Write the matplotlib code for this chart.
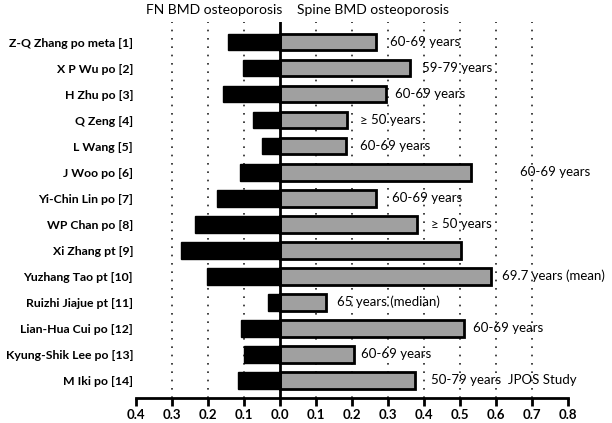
import numpy as np
import matplotlib.pyplot as plt

studies = ["Z-Q Zhang po meta [1]", "X P Wu po [2]", "H Zhu po [3]", "Q Zeng [4]",
           "L Wang [5]", "J Woo po [6]", "Yi-Chin Lin po [7]", "WP Chan po [8]",
           "Xi Zhang pt [9]", "Yuzhang Tao pt [10]", "Ruizhi Jiajue pt [11]",
           "Lian-Hua Cui po [12]", "Kyung-Shik Lee po [13]", "M Iki po [14]"]
fn_bmd = [0.145, 0.103, 0.159, 0.075, 0.050, 0.111, 0.175, 0.237,
          0.276, 0.203, 0.034, 0.109, 0.100, 0.117]
spine_bmd = [0.267, 0.362, 0.295, 0.187, 0.185, 0.532, 0.267, 0.382,
             0.504, 0.587, 0.127, 0.510, 0.206, 0.376]
age_notes = ["60-69 years", "59-79 years", "60-69 years", "\u2265 50 years",
             "60-69 years", "60-69 years", "60-69 years", "\u2265 50 years",
             "", "69.7 years (mean)", "65 years (median)", "60-69 years",
             "60-69 years", "50-79 years  JPOS Study"]
note_x = [0.306, 0.396, 0.32, 0.223, 0.223, 0.666, 0.312, 0.42,
          0, 0.618, 0.159, 0.535, 0.226, 0.42]
ticks = np.round(np.arange(-0.4, 0.81, 0.1), 1)

plt.rcParams['font.family'] = ['Lato', 'DejaVu Sans']

fig = plt.figure(figsize=(6.12, 4.23), dpi=100)
ax = fig.add_axes([0.222, 0.059, 0.706, 0.889])

y = np.arange(len(studies))
ax.barh(y, -np.array(fn_bmd), height=0.65, color='black', edgecolor='black', zorder=3)
ax.barh(y, spine_bmd, height=0.65, color='#a0a0a0', edgecolor='black', linewidth=2, zorder=3)

for t in ticks:
    if t != 0 and abs(t) < 0.8 and t != -0.4:
        ax.axvline(t, color='#222222', linestyle=(0, (1, 4)), linewidth=1.2, zorder=1)
ax.axvline(0, color='black', linewidth=2, zorder=4)

for i in range(len(studies)):
    if age_notes[i]:
        ax.text(note_x[i], y[i], age_notes[i], va='center', ha='left', fontsize=9.5)

ax.set_xlim(-0.4, 0.8)
ax.set_ylim(13.69, -0.77)
ax.set_xticks(ticks)
ax.set_xticklabels(["%.1f" % abs(t) for t in ticks], fontweight='bold', fontsize=9.5)
ax.set_yticks(y)
ax.set_yticklabels(studies, fontweight='bold', fontsize=8.8)
ax.tick_params(axis='y', length=0, pad=2)
ax.tick_params(axis='x', length=6, width=2, pad=2)
for s in ['top', 'right', 'left']:
    ax.spines[s].set_visible(False)
ax.spines['bottom'].set_linewidth(2)

fig.text(214 / 612, 1 - 10 / 423, "FN BMD osteoporosis", ha='center', va='center', fontsize=10)
fig.text(373 / 612, 1 - 10 / 423, "Spine BMD osteoporosis", ha='center', va='center', fontsize=10)

fig.savefig("out.png", dpi=100)
